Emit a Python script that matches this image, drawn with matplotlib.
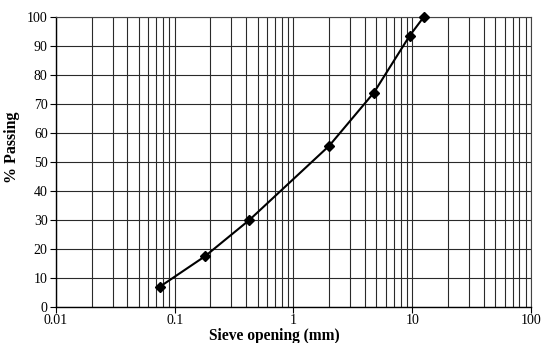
import matplotlib
matplotlib.use("Agg")
import matplotlib.pyplot as plt
from matplotlib.ticker import LogLocator, FixedLocator, NullFormatter, FuncFormatter

sieve_mm = [0.075, 0.18, 0.425, 2.0, 4.75, 9.5, 12.5]
passing = [7.0, 17.5, 30.0, 55.6, 73.9, 93.5, 100.0]
x_ticks = [0.01, 0.1, 1, 10, 100]
x_tick_labels = ["0.01", "0.1", "1", "10", "100"]
y_ticks = list(range(0, 101, 10))

plt.rcParams['font.family'] = ['Liberation Serif', 'DejaVu Serif']

fig = plt.figure(figsize=(5.42, 3.43), dpi=100)
ax = fig.add_axes([0.1033, 0.105, 0.8764, 0.8455])

ax.set_xscale('log')
ax.set_xlim(0.01, 100)
ax.set_ylim(0, 100)

ax.xaxis.set_major_locator(FixedLocator(x_ticks))
ax.xaxis.set_major_formatter(FuncFormatter(lambda v, p: x_tick_labels[x_ticks.index(v)] if v in x_ticks else ""))
ax.xaxis.set_minor_locator(LogLocator(base=10, subs=range(2, 10), numticks=20))
ax.xaxis.set_minor_formatter(NullFormatter())
ax.yaxis.set_major_locator(FixedLocator(y_ticks))

ax.grid(True, which='major', axis='both', color='#2a2a2a', linewidth=0.8)
ax.grid(True, which='minor', axis='x', color='#2a2a2a', linewidth=0.8)
ax.tick_params(which='minor', length=0)
ax.tick_params(which='major', direction='out', length=4, width=0.8, labelsize=10, pad=2)
ax.tick_params(axis='x', which='major', pad=1)

for s in ['top', 'right']:
    ax.spines[s].set_color('#444444')
    ax.spines[s].set_linewidth(0.8)
for s in ['left', 'bottom']:
    ax.spines[s].set_color('black')
    ax.spines[s].set_linewidth(1.0)

ax.plot(sieve_mm, passing, color='black', linewidth=1.5, marker='D', markersize=5.5,
        markerfacecolor='black', markeredgecolor='black', zorder=5, clip_on=False)

ax.set_xlabel('Sieve opening (mm)', fontsize=11.2, fontweight='bold', labelpad=0)
ax.xaxis.set_label_coords(0.459, -0.071)
ax.xaxis.label.set_va('top')
ax.set_ylabel('% Passing', fontsize=11.5, fontweight='bold')
ax.yaxis.set_label_coords(-0.076, 0.552)

fig.savefig('out.png', dpi=100)
